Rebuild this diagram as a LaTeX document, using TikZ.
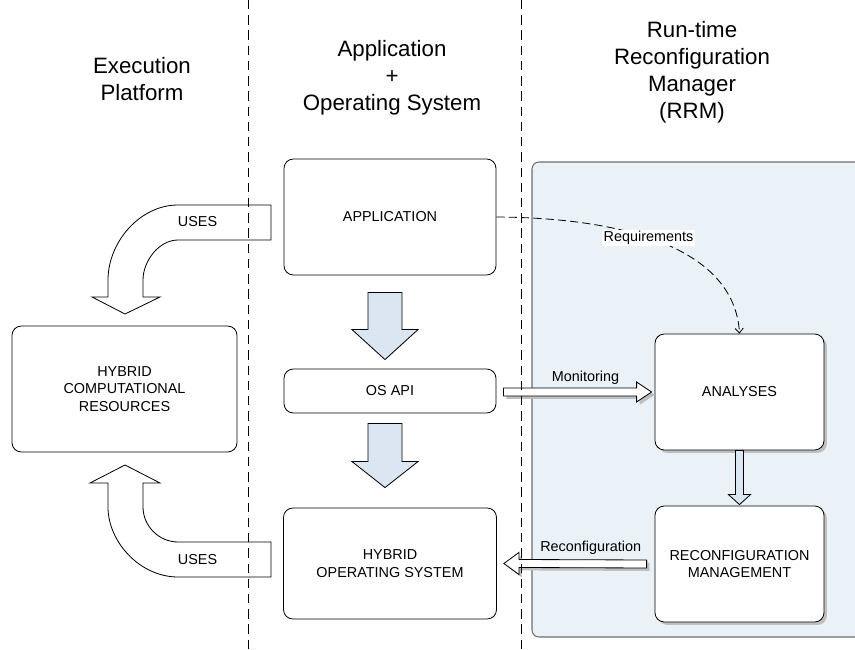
\documentclass[tikz,border=0pt]{standalone}
\usepackage{fontspec}
\setmainfont{Liberation Sans}
\usetikzlibrary{calc,arrows.meta,shadows}

\definecolor{panelblue}{RGB}{234,242,248}
\definecolor{arrowblue}{RGB}{220,230,242}
\definecolor{edgegray}{RGB}{110,110,110}

\begin{document}
\begin{tikzpicture}[x=0.03cm,y=-0.03cm,line width=0.7pt,
    box/.style={draw,rounded corners=8pt,fill=white,align=center,inner sep=0pt,font=\fontsize{12.3}{14.9}\selectfont},
    shadowed/.style={drop shadow={shadow xshift=2.5pt,shadow yshift=-2.5pt,opacity=1,fill=black!25}},
    header/.style={align=center,font=\fontsize{19}{23}\selectfont},
    lbl/.style={font=\fontsize{12.3}{14.9}\selectfont},
    blockarrow/.style={draw,fill=arrowblue},
    usesarrow/.style={draw,fill=white},
    divider/.style={dash pattern=on 8pt off 5pt,line width=0.6pt}]

  \clip (0,0) rectangle (855,650);

  % RRM area
  \draw[draw=edgegray,line width=0.9pt,fill=panelblue,rounded corners=6pt] (532,162) rectangle (880,637);

  % column titles
  \node[header] (hdrexec) at (142,79) {Execution\\Platform};
  \node[header] (hdrappos) at (392,78) {Application\\+\\Operating System};
  \node[header] (hdrrrm) at (692,72) {Run-time\\Reconfiguration\\Manager\\(RRM)};

  % boxes
  \node[box,minimum width=6.36cm,minimum height=3.48cm] (app) at (390,217) {APPLICATION};
  \node[box,minimum width=6.36cm,minimum height=1.32cm] (osapi) at (390,391) {OS API};
  \node[box,minimum width=6.39cm,minimum height=3.33cm] (hos) at (390,563.5) {HYBRID\\OPERATING SYSTEM};
  \node[box,minimum width=6.75cm,minimum height=3.78cm] (hcr) at (124.5,389) {HYBRID\\COMPUTATIONAL\\RESOURCES};
  \node[box,shadowed,minimum width=5.07cm,minimum height=3.48cm] (ana) at (739.5,392) {ANALYSES};
  \node[box,shadowed,minimum width=5.07cm,minimum height=3.48cm] (rcm) at (739.5,564) {RECONFIGURATION\\MANAGEMENT};

  % big arrows down the middle column
  \draw[blockarrow] ($(app.south)+(-22,17)$) -- ($(app.south)+(12,17)$) -- ($(osapi.north)+(12,-39)$)
    -- ($(osapi.north)+(28,-39)$) -- ($(osapi.north)+(-5,-9)$) -- ($(osapi.north)+(-38,-39)$)
    -- ($(osapi.north)+(-22,-39)$) -- cycle;
  \draw[blockarrow] ($(osapi.south)+(-22,10)$) -- ($(osapi.south)+(12,10)$) -- ($(hos.north)+(12,-46)$)
    -- ($(hos.north)+(28,-46)$) -- ($(hos.north)+(-5,-20)$) -- ($(hos.north)+(-38,-46)$)
    -- ($(hos.north)+(-22,-46)$) -- cycle;
  \draw[blockarrow] ($(ana.south)+(-4,0)$) -- ($(rcm.north)+(-4,-11)$) -- ($(rcm.north)+(-11,-11)$)
    -- ($(rcm.north)+(0,-1)$) -- ($(rcm.north)+(11,-11)$) -- ($(rcm.north)+(4,-11)$)
    -- ($(ana.south)+(4,0)$) -- cycle;

  % monitoring and reconfiguration
  \draw[fill=white,shadowed] ($(osapi.east)+(7,-3)$) -- ($(ana.west)+(-18,-4)$) -- ($(ana.west)+(-18,-10)$)
    -- ($(ana.west)+(-3,0)$) -- ($(ana.west)+(-18,10)$) -- ($(ana.west)+(-18,4)$)
    -- ($(osapi.east)+(7,5)$) -- cycle;
  \node[lbl] (monlbl) at ($(osapi.east)!0.5!(ana.west)+(10,-14)$) {Monitoring};
  \draw[fill=white,shadowed] ($(rcm.west)+(-8,-4)$) -- ($(hos.east)+(22,-4)$) -- ($(hos.east)+(22,-11)$)
    -- ($(hos.east)+(7,0)$) -- ($(hos.east)+(22,11)$) -- ($(hos.east)+(22,4)$)
    -- ($(rcm.west)+(-8,4)$) -- cycle;
  \node[lbl] (reclbl) at ($(hos.east)!0.5!(rcm.west)+(15,-16)$) {Reconfiguration};

  % requirements
  \draw[dash pattern=on 7pt off 3.5pt,-{Straight Barb[length=4pt,width=7pt]}] (app.east)
    .. controls (640,218) and (735,255) .. node[lbl,fill=white,inner sep=1pt,pos=0.42] (reqlbl) {Requirements} (ana.north);

  % USES arrows
  \draw[usesarrow] (271,205) -- (178,205) .. controls (140,205) and (108,242) .. (108,280) -- (108,297)
    -- (92,297) -- (125,314) -- (160,297) -- (143,297) -- (143,280)
    .. controls (143,261) and (159,240) .. (178,240) -- (271,240) -- cycle;
  \node[lbl] (uses1) at (197.5,222) {USES};
  \draw[usesarrow] (271,577) -- (178,577) .. controls (140,577) and (108,542) .. (108,507) -- (108,483)
    -- (90,483) -- (125,465) -- (160,483) -- (143,483) -- (143,507)
    .. controls (143,526) and (159,542) .. (178,542) -- (271,542) -- cycle;
  \node[lbl] (uses2) at (197.5,560) {USES};

  \draw[divider] (248.5,0) -- (248.5,650);
  \draw[divider] (521.5,0) -- (521.5,650);
\end{tikzpicture}
\end{document}
